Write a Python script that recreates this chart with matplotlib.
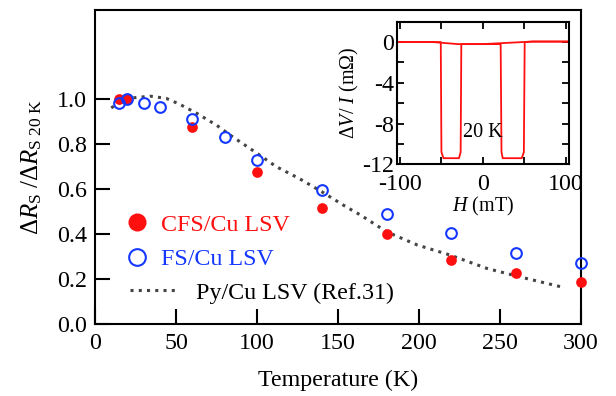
import matplotlib
matplotlib.use("Agg")
import matplotlib.pyplot as plt
from matplotlib.lines import Line2D

plt.rcParams['font.family'] = ['Liberation Serif', 'DejaVu Serif']
plt.rcParams['mathtext.fontset'] = 'custom'
plt.rcParams['mathtext.rm'] = 'Liberation Serif'
plt.rcParams['mathtext.it'] = 'Liberation Serif:italic'
plt.rcParams['axes.unicode_minus'] = False

# ---- main data ----
T_cfs = [15, 20, 60, 100, 140, 180, 220, 260, 300]
R_cfs = [1.0, 1.0, 0.877, 0.674, 0.514, 0.399, 0.283, 0.225, 0.187]

T_fs = [15, 20, 30, 40, 60, 80, 100, 140, 180, 220, 260, 300]
R_fs = [0.984, 0.999, 0.984, 0.963, 0.91, 0.831, 0.729, 0.596, 0.487, 0.406, 0.314, 0.27]

T_py = [10, 20, 34, 44, 52, 63, 75, 85, 100, 112, 126, 140, 155, 164, 180, 199, 219, 242, 262, 289]
R_py = [0.961, 1.003, 1.013, 1.003, 0.978, 0.936, 0.884, 0.832, 0.759, 0.699, 0.647, 0.588,
        0.521, 0.484, 0.41, 0.351, 0.307, 0.247, 0.21, 0.163]

x_ticks = [0, 50, 100, 150, 200, 250, 300]
y_ticks = [0.0, 0.2, 0.4, 0.6, 0.8, 1.0]

# ---- inset data (two field sweeps) ----
H_up = [-104, -60, -30, 0, 21.5, 22.5, 24, 47, 49.5, 50.5, 60, 104]
V_up = [0.0, 0.0, -0.2, -0.2, -0.2, -10.8, -11.4, -11.4, -10.8, 0.0, 0.05, 0.05]
H_down = [104, 60, 0, -26, -26.8, -28.8, -47.5, -50.0, -50.8, -60, -104]
V_down = [0.05, 0.05, -0.2, -0.2, -10.8, -11.4, -11.4, -10.8, 0.0, 0.0, 0.0]

RED = '#ff1010'
BLUE = '#1438ff'
GRAY = '#444444'
FS = 17.3
FS2 = 14.5

fig = plt.figure(figsize=(6.16, 3.96), dpi=100)
W, Hh = 616, 396
ax = fig.add_axes([95 / W, 1 - 324 / Hh, (581 - 95) / W, (324 - 10) / Hh])

ax.plot(T_py, R_py, color=GRAY, lw=2.2, linestyle=(0, (1, 1.7)), dash_capstyle='butt', zorder=2)
ax.plot(T_cfs, R_cfs, 'o', color=RED, ms=7.7, mec=RED, mew=0, zorder=3, clip_on=False)
ax.plot(T_fs, R_fs, 'o', mfc='none', mec=BLUE, ms=7.7, mew=1.5, zorder=4, clip_on=False)

ax.set_xlim(0, 300)
ax.set_ylim(0, 1.396)
ax.set_xticks(x_ticks)
ax.set_xticklabels([str(v) for v in x_ticks])
ax.set_yticks(y_ticks)
ax.set_yticklabels([f'{v:.1f}' for v in y_ticks])
ax.tick_params(direction='in', length=10.5, width=1.5, labelsize=FS)
ax.tick_params(axis='x', pad=6.5)
ax.tick_params(axis='y', pad=6)
for s in ax.spines.values():
    s.set_linewidth(1.5)

ax.set_xlabel('Temperature (K)', fontsize=FS, labelpad=11.5)
ax.set_ylabel(r'$\Delta R_{\mathrm{S}}\ /\Delta R_{\mathrm{S\ 20\ K}}$', fontsize=18, labelpad=9.3)

# legends
h1 = Line2D([], [], ls='none', marker='o', color=RED, mew=0, ms=13)
h2 = Line2D([], [], ls='none', marker='o', mfc='none', mec=BLUE, ms=12, mew=1.5)
leg1 = ax.legend([h1, h2], ['CFS/Cu LSV', 'FS/Cu LSV'], loc='upper left',
                 bbox_to_anchor=((127.8 - 95) / 486, (324 - 214) / 314),
                 frameon=False, fontsize=FS, handlelength=0.8, handletextpad=0.6,
                 labelspacing=0.52, borderpad=0, borderaxespad=0)
for t, c in zip(leg1.get_texts(), [RED, BLUE]):
    t.set_color(c)
ax.add_artist(leg1)
h3 = Line2D([], [], color=GRAY, lw=2.2, linestyle=(0, (1, 1.7)), dash_capstyle='butt')
leg2 = ax.legend([h3], ['Py/Cu LSV (Ref.31)'], loc='upper left',
                 bbox_to_anchor=((130 - 95) / 486, (324 - 282) / 314),
                 frameon=False, fontsize=FS, handlelength=1.92, handletextpad=0.84,
                 borderpad=0, borderaxespad=0)

# inset
ia = fig.add_axes([396.7 / W, 1 - 164.3 / Hh, (569 - 396.7) / W, (164.3 - 21.7) / Hh])
ia.plot(H_up, V_up, color=RED, lw=1.3)
ia.plot(H_down, V_down, color=RED, lw=1.3)
ia.set_xlim(-104, 104)
ia.set_ylim(-12, 2)
ia.set_xticks([-100, 0, 100])
ia.set_xticks([-50, 50], minor=True)
ia.set_yticks([-12, -8, -4, 0])
ia.set_yticks([-10, -6, -2], minor=True)
ia.set_yticklabels(['-12', '-8', '-4', '0'])
ia.tick_params(which='both', direction='in', length=5, width=1.3, top=True, right=True,
               labelsize=FS)
ia.tick_params(axis='x', pad=7)
ia.tick_params(axis='y', pad=2)
for s in ia.spines.values():
    s.set_linewidth(1.5)
ia.set_xlabel(r'$H$ (mT)', fontsize=FS2, labelpad=0)
ia.set_ylabel(r'$\Delta V$/ $I$ (mΩ)', fontsize=FS2, labelpad=1)
ia.text(0, -8.9, '20 K', fontsize=FS2, ha='center', va='center')

fig.savefig('out.png', dpi=100)
